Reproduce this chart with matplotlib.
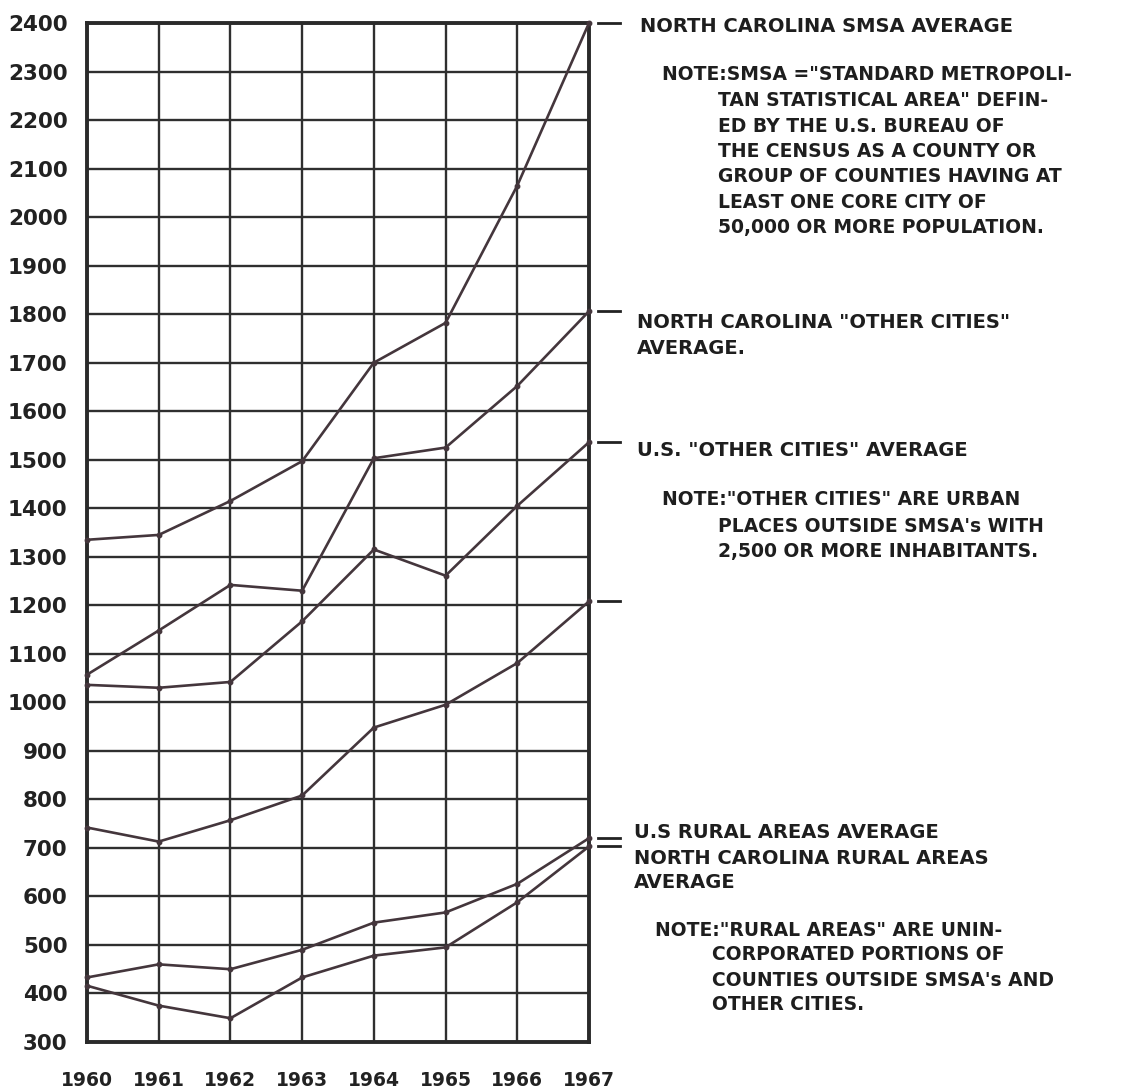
import matplotlib
matplotlib.use("Agg")
import matplotlib.pyplot as plt
import matplotlib.transforms as mtransforms

# ---- data ----
years = [1960, 1961, 1962, 1963, 1964, 1965, 1966, 1967]
nc_smsa = [1335, 1345, 1415, 1497, 1700, 1782, 2065, 2400]
nc_other_cities = [1057, 1148, 1242, 1230, 1503, 1525, 1652, 1806]
us_other_cities = [1036, 1030, 1042, 1167, 1315, 1261, 1405, 1536]
unlabeled_series = [742, 713, 757, 808, 948, 995, 1081, 1208]
us_rural = [433, 460, 450, 490, 546, 567, 626, 720]
nc_rural = [416, 375, 349, 433, 478, 495, 588, 703]
y_ticks = list(range(300, 2401, 100))

W, H = 1130, 1088
fig = plt.figure(figsize=(W / 100, H / 100), dpi=100)
fig.patch.set_facecolor("white")

left, right, top, bottom = 87, 589, 23, 1042
ax = fig.add_axes([left / W, 1 - bottom / H, (right - left) / W, (bottom - top) / H])
ax.set_xlim(1960, 1967)
ax.set_ylim(300, 2400)

grid_c = "#2f2f2f"
line_c = "#44363c"
ax.set_xticks(years)
ax.set_yticks(y_ticks)
ax.grid(True, color=grid_c, linewidth=1.7)
ax.set_axisbelow(True)
for s in ax.spines.values():
    s.set_linewidth(2.8)
    s.set_color("#2a2a2a")

ax.tick_params(axis="both", length=0, colors="#222222")
ax.tick_params(axis="y", pad=14, labelsize=15.5)
ax.tick_params(axis="x", pad=21, labelsize=13.5)
for lab in ax.get_xticklabels() + ax.get_yticklabels():
    lab.set_fontweight("bold")
    lab.set_fontfamily("DejaVu Sans")

series = [nc_smsa, nc_other_cities, us_other_cities, unlabeled_series, us_rural, nc_rural]
for vals in series:
    ax.plot(years, vals, color=line_c, linewidth=1.9, marker="o", markersize=3.2,
            clip_on=False, zorder=3)

# short leader dashes on the right, at each series' end value
trans = mtransforms.blended_transform_factory(ax.transAxes, ax.transData)
for v in [s[-1] for s in series]:
    ax.plot([1.018, 1.062], [v, v], transform=trans, color="#222222",
            linewidth=2.0, clip_on=False)

fs_lab = 14
fs_note = 13.5
txt_kw = dict(fontfamily="DejaVu Sans", fontweight="bold", color="#1e1e1e", va="center")

def ft(x, y, s, size):
    fig.text(x / W, 1 - y / H, s, fontsize=size, **txt_kw)

ft(640, 27, "NORTH CAROLINA SMSA AVERAGE", fs_lab)
note1 = ['NOTE:SMSA ="STANDARD METROPOLI-',
         'TAN STATISTICAL AREA" DEFIN-',
         'ED BY THE U.S. BUREAU OF',
         'THE CENSUS AS A COUNTY OR',
         'GROUP OF COUNTIES HAVING AT',
         'LEAST ONE CORE CITY OF',
         '50,000 OR MORE POPULATION.']
ft(662, 75, note1[0], fs_note)
for i, s in enumerate(note1[1:], start=1):
    ft(718, 75 + i * 25.5, s, fs_note)

ft(637, 322, 'NORTH CAROLINA "OTHER CITIES"', fs_lab)
ft(637, 348, "AVERAGE.", fs_lab)
ft(637, 450, 'U.S. "OTHER CITIES" AVERAGE', fs_lab)

note2 = ['NOTE:"OTHER CITIES" ARE URBAN',
         "PLACES OUTSIDE SMSA's WITH",
         "2,500 OR MORE INHABITANTS."]
ft(662, 500, note2[0], fs_note)
ft(718, 526, note2[1], fs_note)
ft(718, 552, note2[2], fs_note)

ft(634, 832, "U.S RURAL AREAS AVERAGE", fs_lab)
ft(634, 858, "NORTH CAROLINA RURAL AREAS", fs_lab)
ft(634, 883, "AVERAGE", fs_lab)

note3 = ['NOTE:"RURAL AREAS" ARE UNIN-',
         'CORPORATED PORTIONS OF',
         "COUNTIES OUTSIDE SMSA's AND",
         "OTHER CITIES."]
ft(655, 930, note3[0], fs_note)
for i, s in enumerate(note3[1:], start=1):
    ft(712, 930 + i * 25, s, fs_note)

fig.savefig("out.png", dpi=100, facecolor="white")
